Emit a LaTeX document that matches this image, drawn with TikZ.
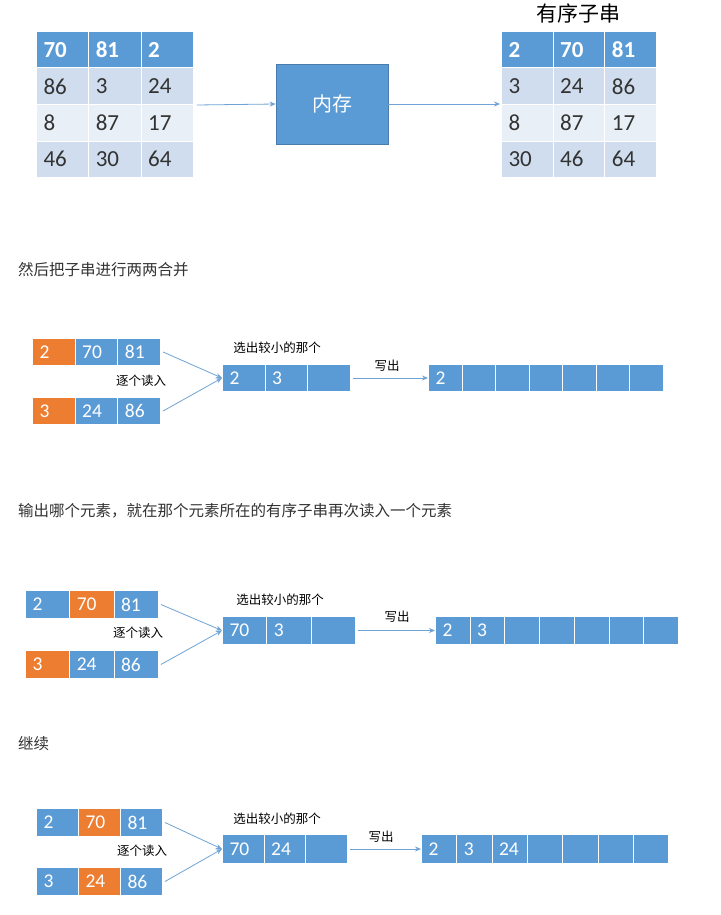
\documentclass[tikz,border=0pt]{standalone}
\usepackage{fontspec}
\setmainfont{Carlito}
\newfontfamily\cjk{Noto Sans CJK SC}
\usetikzlibrary{arrows.meta}
\definecolor{cblue}{HTML}{5B9BD5}
\definecolor{corange}{HTML}{ED7D31}
\definecolor{rowA}{HTML}{CFDDEE}
\definecolor{rowB}{HTML}{E9EFF7}
\definecolor{txt}{HTML}{333333}
\definecolor{arrc}{HTML}{6FA3D6}
\tikzset{
  cellst/.style={draw=white, line width=1pt, inner xsep=7pt, inner ysep=0pt, align=left},
  big/.style={font=\fontsize{23}{23}\selectfont},
  mid/.style={font=\fontsize{19.5}{19.5}\selectfont},
  arr/.style={draw=arrc, line width=0.8pt, -{Stealth[length=6pt,width=5pt]}},
  lbl/.style={text=black, font=\cjk\fontsize{12.5}{12.5}\selectfont, inner sep=0pt},
  para/.style={text=txt, font=\cjk\fontsize{15.5}{15.5}\selectfont, inner sep=0pt, anchor=west},
}
% name, x, y, w, h, fill, textcolor, style, text
\newcommand{\mycell}[9]{\node[cellst, #8, fill=#6, text=#7, minimum width=#4pt, minimum height=#5pt, text width=#4pt-14pt, anchor=north west] (#1) at (#2,#3) {#9};}
\begin{document}
\begin{tikzpicture}[x=1pt, y=-1pt]
\useasboundingbox (0,0) rectangle (720,915);
\fill[white] (0,0) rectangle (720,915);

% ---------- top: left table ----------
\mycell{l11}{36}{31}{52.3}{36.5}{cblue}{white}{big}{\bfseries 70}
\mycell{l12}{88.3}{31}{52.3}{36.5}{cblue}{white}{big}{\bfseries 81}
\mycell{l13}{140.6}{31}{52.3}{36.5}{cblue}{white}{big}{\bfseries 2}
\mycell{l21}{36}{67.5}{52.3}{36.5}{rowA}{txt}{big}{86}
\mycell{l22}{88.3}{67.5}{52.3}{36.5}{rowA}{txt}{big}{3}
\mycell{l23}{140.6}{67.5}{52.3}{36.5}{rowA}{txt}{big}{24}
\mycell{l31}{36}{104}{52.3}{36.5}{rowB}{txt}{big}{8}
\mycell{l32}{88.3}{104}{52.3}{36.5}{rowB}{txt}{big}{87}
\mycell{l33}{140.6}{104}{52.3}{36.5}{rowB}{txt}{big}{17}
\mycell{l41}{36}{140.5}{52.3}{36.5}{rowA}{txt}{big}{46}
\mycell{l42}{88.3}{140.5}{52.3}{36.5}{rowA}{txt}{big}{30}
\mycell{l43}{140.6}{140.5}{52.3}{36.5}{rowA}{txt}{big}{64}

% memory
\node[draw=cblue!80!black, line width=0.6pt, fill=cblue, minimum width=112pt, minimum height=80pt, text=white, font=\cjk\fontsize{20}{20}\selectfont] (mem) at (332,104) {内存};

% right table
\mycell{r11}{501}{31}{51.7}{36.5}{cblue}{white}{big}{\bfseries 2}
\mycell{r12}{552.7}{31}{51.7}{36.5}{cblue}{white}{big}{\bfseries 70}
\mycell{r13}{604.4}{31}{51.7}{36.5}{cblue}{white}{big}{\bfseries 81}
\mycell{r21}{501}{67.5}{51.7}{36.5}{rowA}{txt}{big}{3}
\mycell{r22}{552.7}{67.5}{51.7}{36.5}{rowA}{txt}{big}{24}
\mycell{r23}{604.4}{67.5}{51.7}{36.5}{rowA}{txt}{big}{86}
\mycell{r31}{501}{104}{51.7}{36.5}{rowB}{txt}{big}{8}
\mycell{r32}{552.7}{104}{51.7}{36.5}{rowB}{txt}{big}{87}
\mycell{r33}{604.4}{104}{51.7}{36.5}{rowB}{txt}{big}{17}
\mycell{r41}{501}{140.5}{51.7}{36.5}{rowA}{txt}{big}{30}
\mycell{r42}{552.7}{140.5}{51.7}{36.5}{rowA}{txt}{big}{46}
\mycell{r43}{604.4}{140.5}{51.7}{36.5}{rowA}{txt}{big}{64}
\node[text=black, font=\cjk\fontsize{21}{21}\selectfont, inner sep=0pt] (title) at (578,14) {有序子串};

\draw[arr] ([xshift=3pt]l23.south east) -- (mem.west);
\draw[arr] (mem.east) -- ([xshift=-1pt]r31.north west);

\node[para] (p1) at (18,270) {然后把子串进行两两合并};

% ---------- section 2 ----------
\mycell{s2a1}{32}{338}{42.7}{27}{corange}{white}{mid}{2}
\mycell{s2a2}{74.7}{338}{42.7}{27}{cblue}{white}{mid}{70}
\mycell{s2a3}{117.4}{338}{42.7}{27}{cblue}{white}{mid}{81}
\mycell{s2b1}{32}{397}{42.7}{27}{corange}{white}{mid}{3}
\mycell{s2b2}{74.7}{397}{42.7}{27}{cblue}{white}{mid}{24}
\mycell{s2b3}{117.4}{397}{42.7}{27}{cblue}{white}{mid}{86}
\mycell{s2m1}{222}{364}{42.7}{27}{cblue}{white}{mid}{2}
\mycell{s2m2}{264.7}{364}{42.7}{27}{cblue}{white}{mid}{3}
\mycell{s2m3}{307.4}{364}{42.7}{27}{cblue}{white}{mid}{}
\mycell{s2o1}{428}{364}{33.5}{27}{cblue}{white}{mid}{2}
\mycell{s2o2}{461.5}{364}{33.5}{27}{cblue}{white}{mid}{}
\mycell{s2o3}{495}{364}{33.5}{27}{cblue}{white}{mid}{}
\mycell{s2o4}{528.5}{364}{33.5}{27}{cblue}{white}{mid}{}
\mycell{s2o5}{562}{364}{33.5}{27}{cblue}{white}{mid}{}
\mycell{s2o6}{595.5}{364}{33.5}{27}{cblue}{white}{mid}{}
\mycell{s2o7}{629}{364}{33.5}{27}{cblue}{white}{mid}{}
\node[lbl] (s2sel) at (277,348) {选出较小的那个};
\node[lbl] (s2rd) at (141,381) {逐个读入};
\node[lbl] (s2wr) at (387,366) {写出};
\draw[arr] ([xshift=2pt]s2a3.east) -- (s2m1.west);
\draw[arr] ([xshift=2pt]s2b3.east) -- (s2m1.west);
\draw[arr] ([xshift=2pt]s2m3.east) -- (s2o1.west);

\node[para] (p2) at (18,511) {输出哪个元素，就在那个元素所在的有序子串再次读入一个元素};

% ---------- section 3 ----------
\mycell{s3a1}{25}{590}{44.3}{28}{cblue}{white}{mid}{2}
\mycell{s3a2}{69.3}{590}{44.3}{28}{corange}{white}{mid}{70}
\mycell{s3a3}{113.6}{590}{44.3}{28}{cblue}{white}{mid}{81}
\mycell{s3b1}{25}{650}{44.3}{28}{corange}{white}{mid}{3}
\mycell{s3b2}{69.3}{650}{44.3}{28}{cblue}{white}{mid}{24}
\mycell{s3b3}{113.6}{650}{44.3}{28}{cblue}{white}{mid}{86}
\mycell{s3m1}{222}{616}{44.3}{28}{cblue}{white}{mid}{70}
\mycell{s3m2}{266.3}{616}{44.3}{28}{cblue}{white}{mid}{3}
\mycell{s3m3}{310.6}{616}{44.3}{28}{cblue}{white}{mid}{}
\mycell{s3o1}{435}{616}{34.7}{28}{cblue}{white}{mid}{2}
\mycell{s3o2}{469.7}{616}{34.7}{28}{cblue}{white}{mid}{3}
\mycell{s3o3}{504.4}{616}{34.7}{28}{cblue}{white}{mid}{}
\mycell{s3o4}{539.1}{616}{34.7}{28}{cblue}{white}{mid}{}
\mycell{s3o5}{573.8}{616}{34.7}{28}{cblue}{white}{mid}{}
\mycell{s3o6}{608.5}{616}{34.7}{28}{cblue}{white}{mid}{}
\mycell{s3o7}{643.2}{616}{34.7}{28}{cblue}{white}{mid}{}
\node[lbl] (s3sel) at (280,600) {选出较小的那个};
\node[lbl] (s3rd) at (138,633) {逐个读入};
\node[lbl] (s3wr) at (397,617) {写出};
\draw[arr] ([xshift=2pt]s3a3.east) -- (s3m1.west);
\draw[arr] ([xshift=2pt]s3b3.east) -- (s3m1.west);
\draw[arr] ([xshift=2pt]s3m3.east) -- (s3o1.west);

\node[para] (p3) at (18,744) {继续};

% ---------- section 4 ----------
\mycell{s4a1}{36}{808}{42}{28}{cblue}{white}{mid}{2}
\mycell{s4a2}{78}{808}{42}{28}{corange}{white}{mid}{70}
\mycell{s4a3}{120}{808}{42}{28}{cblue}{white}{mid}{81}
\mycell{s4b1}{36}{867}{42}{28}{cblue}{white}{mid}{3}
\mycell{s4b2}{78}{867}{42}{28}{corange}{white}{mid}{24}
\mycell{s4b3}{120}{867}{42}{28}{cblue}{white}{mid}{86}
\mycell{s4m1}{222}{834}{41.7}{29}{cblue}{white}{mid}{70}
\mycell{s4m2}{263.7}{834}{41.7}{29}{cblue}{white}{mid}{24}
\mycell{s4m3}{305.4}{834}{41.7}{29}{cblue}{white}{mid}{}
\mycell{s4o1}{421}{834}{35.3}{29}{cblue}{white}{mid}{2}
\mycell{s4o2}{456.3}{834}{35.3}{29}{cblue}{white}{mid}{3}
\mycell{s4o3}{491.6}{834}{35.3}{29}{cblue}{white}{mid}{24}
\mycell{s4o4}{526.9}{834}{35.3}{29}{cblue}{white}{mid}{}
\mycell{s4o5}{562.2}{834}{35.3}{29}{cblue}{white}{mid}{}
\mycell{s4o6}{597.5}{834}{35.3}{29}{cblue}{white}{mid}{}
\mycell{s4o7}{632.8}{834}{35.3}{29}{cblue}{white}{mid}{}
\node[lbl] (s4sel) at (277,819) {选出较小的那个};
\node[lbl] (s4rd) at (142,851) {逐个读入};
\node[lbl] (s4wr) at (381,837) {写出};
\draw[arr] ([xshift=2pt]s4a3.east) -- (s4m1.west);
\draw[arr] ([xshift=2pt]s4b3.east) -- (s4m1.west);
\draw[arr] ([xshift=2pt]s4m3.east) -- (s4o1.west);
\end{tikzpicture}
\end{document}
